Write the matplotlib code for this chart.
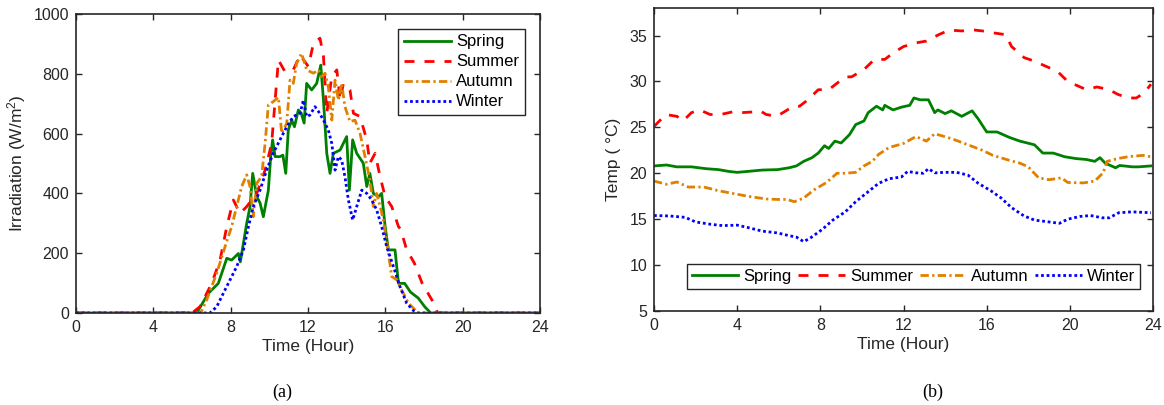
import matplotlib
matplotlib.use("Agg")
import matplotlib.pyplot as plt

plt.rcParams['font.family'] = ['Liberation Sans', 'DejaVu Sans']
plt.rcParams['mathtext.fontset'] = 'custom'
plt.rcParams['mathtext.rm'] = 'Liberation Sans'
plt.rcParams['mathtext.it'] = 'Liberation Sans:italic'

seasons = ['Spring', 'Summer', 'Autumn', 'Winter']
colors = ['#008000', '#FF0000', '#E08000', '#0000FF']
styles = ['-', (0, (3.6, 3.6)), (0, (3.0, 1.2, 0.8, 1.2)), (0, (1.0, 1.0))]

# ---- (a) Irradiation (W/m^2) ----
spring_irr_h = [0, 6.24, 6.85, 7.36, 7.8, 8.05, 8.4, 8.5, 8.83, 9.0, 9.14, 9.35, 9.52, 9.69,
                9.95, 10.07, 10.17, 10.3, 10.55, 10.7, 10.85, 10.98, 11.16, 11.3, 11.5, 11.65,
                11.8, 11.93, 12.19, 12.45, 12.66, 12.8, 12.97, 13.14, 13.31, 13.66, 14.0, 14.14,
                14.31, 14.52, 14.86, 15.04, 15.2, 15.38, 15.64, 15.81, 15.99, 16.16, 16.5, 16.68,
                17.0, 17.3, 17.7, 18.05, 18.35, 24]
spring_irr = [0, 0, 66, 99, 183, 177, 199, 171, 300, 355, 467, 389, 368, 322,
              411, 523, 579, 523, 523, 528, 467, 612, 645, 623, 679, 668,
              635, 768, 746, 768, 829, 712, 534, 467, 534, 545, 590, 411,
              579, 534, 501, 423, 467, 400, 389, 400, 289, 211, 211, 99,
              99, 70, 50, 20, 0, 0]

summer_irr_h = [0, 5.6, 5.81, 6.0, 6.41, 7.02, 7.45, 7.8, 8.14, 8.48, 8.83, 9.35, 9.78, 10.12,
                10.3, 10.47, 10.81, 11.24, 11.59, 12.02, 12.28, 12.62, 12.8, 12.97, 13.23, 13.49,
                13.66, 13.83, 14.17, 14.35, 14.69, 15.04, 15.2, 15.47, 15.73, 15.99, 16.33, 16.68,
                16.8, 17.1, 17.5, 17.9, 18.55, 18.7, 24]
summer_irr = [0, 0, 10, 0, 21, 99, 177, 289, 378, 333, 356, 400, 478, 567,
              712, 846, 807, 813, 863, 824, 902, 919, 858, 668, 791, 813,
              712, 768, 746, 668, 657, 579, 501, 534, 456, 389, 356, 289,
              279, 212, 167, 100, 28, 0, 0]

autumn_irr_h = [0, 6.45, 6.76, 7.28, 7.71, 8.05, 8.31, 8.57, 8.83, 9.0, 9.17, 9.35, 9.6, 9.78,
                9.95, 10.2, 10.47, 10.64, 10.9, 11.07, 11.24, 11.41, 11.67, 11.93, 12.28, 12.54,
                12.71, 12.88, 13.05, 13.23, 13.4, 13.57, 13.74, 13.91, 14.17, 14.43, 14.69, 14.95,
                15.2, 15.38, 15.55, 15.73, 15.9, 16.16, 16.33, 16.59, 16.93, 17.19, 17.7, 24]
autumn_irr = [0, 0, 44, 133, 222, 289, 356, 423, 462, 423, 322, 434, 456, 567,
              696, 707, 721, 601, 634, 779, 768, 835, 868, 813, 802, 813,
              791, 802, 757, 645, 779, 712, 768, 690, 640, 645, 601, 523,
              445, 356, 400, 356, 311, 200, 122, 111, 66, 33, 0, 0]

winter_irr_h = [0, 6.93, 7.28, 7.62, 7.97, 8.31, 8.66, 8.92, 9.17, 9.52, 9.86, 10.2, 10.55, 10.9,
                11.24, 11.59, 11.76, 11.93, 12.1, 12.36, 12.54, 12.8, 13.05, 13.23, 13.4, 13.57,
                13.74, 13.91, 14.09, 14.31, 14.52, 14.78, 15.04, 15.3, 15.55, 15.81, 16.07, 16.42,
                16.76, 17.1, 17.5, 17.7, 24]
winter_irr = [0, 0, 21, 66, 111, 155, 211, 289, 356, 411, 478, 534, 579, 623,
              657, 668, 712, 657, 662, 690, 674, 645, 612, 567, 478, 523,
              512, 456, 378, 311, 356, 411, 400, 378, 345, 289, 222, 155,
              88, 33, 5, 0, 0]

# ---- (b) Temperature (deg C) ----
spring_t_h = [0, 0.6, 1.1, 1.8, 2.5, 3.1, 3.6, 4.0, 4.5, 5.2, 5.95, 6.5, 6.85, 7.2, 7.6, 7.9,
              8.2, 8.4, 8.7, 9.0, 9.4, 9.7, 10.1, 10.3, 10.7, 11.0, 11.1, 11.5, 11.9, 12.3, 12.5,
              12.8, 13.2, 13.5, 13.65, 14.0, 14.3, 14.8, 15.3, 15.6, 16.0, 16.5, 17.1, 17.6, 18.3,
              18.7, 19.2, 19.75, 20.3, 20.8, 21.2, 21.45, 21.7, 22.2, 22.4, 23.0, 23.3, 23.9]
spring_t = [20.8, 20.9, 20.7, 20.7, 20.5, 20.4, 20.2, 20.1, 20.2, 20.35, 20.4, 20.6, 20.8, 21.3, 21.7, 22.2,
            23.0, 22.7, 23.5, 23.3, 24.2, 25.3, 25.7, 26.6, 27.3, 26.9, 27.4, 26.9, 27.2, 27.4, 28.2,
            28.0, 28.0, 26.6, 26.9, 26.5, 26.8, 26.2, 26.8, 25.9, 24.5, 24.5, 23.9, 23.5, 23.1,
            22.2, 22.2, 21.8, 21.6, 21.5, 21.3, 21.7, 21.1, 20.6, 20.85, 20.7, 20.7, 20.8]

summer_t_h = [0, 0.57, 1.1, 1.4, 1.8, 2.2, 2.7, 3.2, 3.8, 4.2, 4.9, 5.1, 5.4, 5.9, 6.2, 6.7, 7.0,
              7.4, 7.9, 8.4, 8.8, 9.2, 9.5, 10.1, 10.6, 11.1, 11.5, 12.0, 12.6, 13.1, 13.7, 14.2,
              14.8, 15.4, 15.8, 16.3, 16.9, 17.2, 17.8, 18.3, 18.7, 19.4, 19.9, 20.4, 20.8, 21.3,
              21.9, 22.3, 22.8, 23.2, 23.6, 23.9]
summer_t = [25.1, 26.4, 26.2, 25.7, 26.6, 26.9, 26.4, 26.4, 26.7, 26.6, 26.7, 26.8, 26.4, 26.2, 26.6, 27.3, 27.3,
            28.0, 29.1, 29.1, 29.8, 30.5, 30.5, 31.3, 32.4, 32.4, 33.1, 33.8, 34.2, 34.4, 35.1, 35.6,
            35.5, 35.6, 35.5, 35.3, 35.1, 33.8, 32.6, 32.2, 31.8, 31.1, 30.0, 29.5, 29.1, 29.4,
            29.1, 28.6, 28.2, 28.2, 28.8, 29.7]

autumn_t_h = [0, 0.6, 1.1, 1.65, 2.4, 3.1, 3.8, 4.5, 5.4, 5.95, 6.4, 6.75, 7.2, 7.7, 8.3, 8.8,
              9.2, 9.7, 10.1, 10.5, 10.8, 11.3, 12.0, 12.6, 13.1, 13.5, 13.9, 14.4, 15.1, 15.8,
              16.3, 17.1, 17.6, 18.0, 18.5, 19.0, 19.6, 19.9, 20.65, 21.2, 21.6, 21.8, 22.3, 22.8,
              23.5, 23.9]
autumn_t = [19.15, 18.8, 19.05, 18.5, 18.5, 18.1, 17.8, 17.5, 17.2, 17.15, 17.15, 16.9, 17.3, 18.2, 19.0, 20.0,
            20.0, 20.1, 20.8, 21.3, 22.05, 22.8, 23.25, 24.0, 23.5, 24.3, 24.05, 23.7, 23.1, 22.5,
            21.95, 21.4, 21.1, 20.7, 19.5, 19.3, 19.5, 19.0, 18.95, 19.15, 20.05, 21.3, 21.6, 21.8,
            21.95, 21.8]

winter_t_h = [0, 0.75, 1.5, 2.0, 2.7, 3.3, 4.0, 4.5, 5.2, 5.95, 6.5, 6.85, 7.2, 7.55, 8.1, 8.6,
              9.2, 9.7, 10.25, 10.8, 11.3, 11.9, 12.2, 12.6, 12.95, 13.2, 13.5, 14.0, 14.55, 15.1,
              15.6, 16.2, 16.7, 17.2, 17.8, 18.3, 19.0, 19.5, 19.9, 20.5, 21.0, 21.55, 21.9, 22.35,
              23.0, 23.9]
winter_t = [15.4, 15.35, 15.2, 14.7, 14.45, 14.3, 14.35, 14.1, 13.7, 13.5, 13.2, 13.05, 12.55, 13.0, 13.9, 14.9,
            15.8, 16.9, 17.9, 18.9, 19.4, 19.6, 20.2, 20.05, 20.0, 20.5, 20.05, 20.1, 20.1, 19.8,
            18.9, 18.1, 17.3, 16.25, 15.35, 14.9, 14.7, 14.55, 15.0, 15.3, 15.4, 15.15, 15.15, 15.7,
            15.8, 15.7]

x_ticks = [0, 4, 8, 12, 16, 20, 24]
irr_ticks = [0, 200, 400, 600, 800, 1000]
temp_ticks = [5, 10, 15, 20, 25, 30, 35]

W, H = 1164, 405
fig = plt.figure(figsize=(W / 100, H / 100), dpi=100)
ax1 = fig.add_axes([76 / W, 1 - 313 / H, 464 / W, 299 / H])
ax2 = fig.add_axes([654 / W, 1 - 311 / H, 499 / W, 303 / H])

irr = [(spring_irr_h, spring_irr), (summer_irr_h, summer_irr),
       (autumn_irr_h, autumn_irr), (winter_irr_h, winter_irr)]
tmp = [(spring_t_h, spring_t), (summer_t_h, summer_t),
       (autumn_t_h, autumn_t), (winter_t_h, winter_t)]

for (h, v), name, c, ls in zip(irr, seasons, colors, styles):
    ax1.plot(h, v, color=c, linestyle=ls, lw=2, label=name)
for (h, v), name, c, ls in zip(tmp, seasons, colors, styles):
    ax2.plot(h, v, color=c, linestyle=ls, lw=2, label=name)

for ax in (ax1, ax2):
    ax.set_xlim(0, 24)
    ax.set_xticks(x_ticks)
    ax.tick_params(direction='in', length=4, width=1, top=True, right=True,
                   labelsize=11.5, colors='#262626', pad=5)
    for sp in ax.spines.values():
        sp.set_linewidth(1.2)
        sp.set_color('#262626')
    ax.set_xlabel('Time (Hour)', fontsize=12.5, color='#262626', labelpad=3)

ax1.set_ylim(0, 1000)
ax1.set_yticks(irr_ticks)
ax1.set_ylabel('Irradiation (W/m$^2$)', fontsize=12.5, color='#262626', labelpad=4)
leg1 = ax1.legend(loc='upper right', bbox_to_anchor=(0.967, 0.951), fontsize=12,
                  handlelength=2.8, handletextpad=0.3, borderpad=0.35, labelspacing=0.3,
                  fancybox=False, edgecolor='#262626', framealpha=1, borderaxespad=0)
leg1.get_frame().set_linewidth(1.0)

ax2.set_ylim(5, 38)
ax2.set_yticks(temp_ticks)
ax2.set_ylabel('Temp ( °C)', fontsize=12.5, color='#262626', labelpad=6)
leg2 = ax2.legend(loc='lower center', bbox_to_anchor=(0.52, 0.072), ncol=4, fontsize=12,
                  handlelength=2.8, handletextpad=0.3, columnspacing=0.4, borderpad=0.3,
                  fancybox=False, edgecolor='#262626', framealpha=1, borderaxespad=0)
leg2.get_frame().set_linewidth(1.0)

fig.text(282 / W, 1 - 392 / H, '(a)', ha='center', va='center', fontsize=13,
         family='Liberation Serif')
fig.text(933 / W, 1 - 392 / H, '(b)', ha='center', va='center', fontsize=13,
         family='Liberation Serif')

fig.savefig('out.png', dpi=100)
